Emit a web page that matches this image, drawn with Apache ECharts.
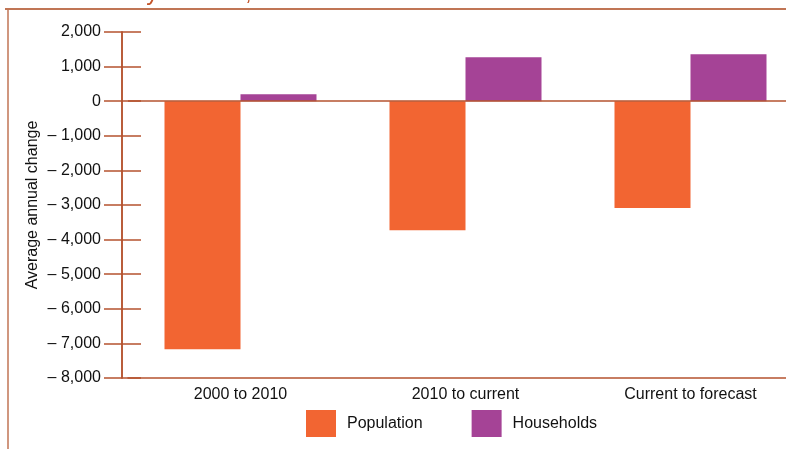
<!DOCTYPE html>
<html>
<head>
<meta charset="utf-8">
<script src="https://cdn.jsdelivr.net/npm/echarts@6/dist/echarts.min.js"></script>
<style>html,body{margin:0;padding:0;background:#fff;overflow:hidden}#c{width:803px;height:449px}</style>
</head>
<body>
<div id="c"></div>
<script>
var categories = ['2000 to 2010', '2010 to current', 'Current to forecast'];
var population = [-7170, -3730, -3090];
var households = [200, 1270, 1360];
var titleText = 'Elyria HMA, 2000 to Forecast';

var brown = '#B5532F';
var frame = '#C07555';
var font = 'Liberation Sans, Arial, sans-serif';

function fmt(v) {
  var s = Math.abs(v).toLocaleString('en-US');
  return v < 0 ? '\u2013 ' + s : s;
}

var chart = echarts.init(document.getElementById('c'));
var yBase = {
  type: 'value', min: -8000, max: 2000, interval: 1000,
  offset: 6,
  splitLine: { show: false },
  axisLine: { show: true, lineStyle: { color: brown, width: 1.5 } }
};
chart.setOption({
  animation: false,
  textStyle: { fontFamily: font },
  graphic: [
    { type: 'line', shape: { x1: 5, y1: 9, x2: 803, y2: 9 }, style: { stroke: frame, lineWidth: 2 } },
    { type: 'line', shape: { x1: 8, y1: 9, x2: 8, y2: 449 }, style: { stroke: frame, lineWidth: 1.5 } },
    { type: 'text', left: 125, top: -19, style: { text: titleText, fill: '#C4552B', font: '24px ' + font } }
  ],
  grid: { left: 128, right: 0, top: 32, bottom: 71 },
  legend: {
    left: 306, top: 410, padding: 0,
    itemWidth: 30, itemHeight: 27, itemGap: 49,
    icon: 'rect',
    textStyle: { fontSize: 16, color: '#111', fontFamily: font, padding: [0, 0, 0, 6] },
    data: ['Population', 'Households']
  },
  xAxis: {
    type: 'category', data: categories,
    axisLine: { onZero: false, lineStyle: { color: brown, width: 1.5 } },
    axisTick: { show: false },
    axisLabel: { color: '#111', fontSize: 16, margin: 9, fontFamily: font }
  },
  yAxis: [
    Object.assign({}, yBase, {
      name: 'Average annual change', nameLocation: 'middle', nameGap: 81,
      nameMoveOverlap: false,
      nameTextStyle: { color: '#111', fontSize: 16, fontFamily: font },
      axisTick: { show: true, inside: false, length: 18, lineStyle: { color: brown, width: 1.5 } },
      axisLabel: { color: '#111', fontSize: 16, margin: 21, formatter: fmt, fontFamily: font }
    }),
    Object.assign({}, yBase, {
      position: 'left',
      axisTick: { show: true, inside: true, length: 19, lineStyle: { color: brown, width: 1.5 } },
      axisLabel: { show: false }
    })
  ],
  series: [
    {
      name: 'Population', type: 'bar', data: population, barWidth: 76, barGap: '0%',
      itemStyle: { color: '#F26532' },
      markLine: {
        silent: true, symbol: 'none', label: { show: false },
        lineStyle: { color: brown, width: 1.5, type: 'solid' },
        data: [{ yAxis: 0 }]
      }
    },
    {
      name: 'Households', type: 'bar', data: households, barWidth: 76,
      itemStyle: { color: '#A54396' }
    }
  ]
});
</script>
</body>
</html>
